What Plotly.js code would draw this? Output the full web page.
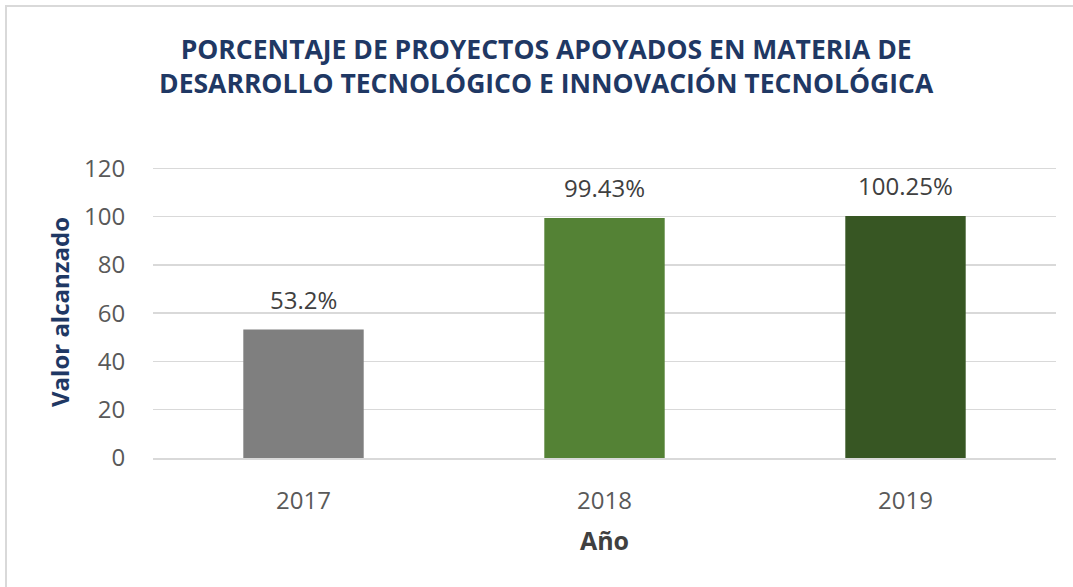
<!DOCTYPE html>
<html>
<head>
<meta charset="utf-8">
<script src="https://cdn.plot.ly/plotly-3.0.1.min.js"></script>
<style>
html,body{margin:0;padding:0;background:#fff;}
#wrap{position:relative;width:1073px;height:587px;overflow:hidden;}
#chart{width:1073px;height:587px;}
#frame{position:absolute;left:5px;top:5px;width:1100px;height:700px;border:2px solid #d9d9d9;box-sizing:border-box;pointer-events:none;}
</style>
</head>
<body>
<div id="wrap"><div id="chart"></div><div id="frame"></div></div>
<script>
const years = ['2017', '2018', '2019'];
const values = [53.2, 99.43, 100.25];
const labels = ['53.2%', '99.43%', '100.25%'];
const colors = ['#7f7f7f', '#548235', '#375623'];
const yTicks = [0, 20, 40, 60, 80, 100, 120];

const font = 'Open Sans, Noto Sans, sans-serif';

const trace = {
  type: 'bar',
  x: years,
  y: values,
  marker: {color: colors},
  showlegend: false
};

const annotations = years.map((yr, i) => ({
  x: i, y: values[i], xref: 'x', yref: 'y',
  text: labels[i],
  showarrow: false, yanchor: 'bottom', yshift: 12,
  font: {family: font, size: 24, color: '#404040'}
}));

const layout = {
  width: 1073, height: 587,
  margin: {l: 153, r: 17, t: 166, b: 129},
  paper_bgcolor: '#ffffff', plot_bgcolor: '#ffffff',
  bargap: 0.6,
  title: {
    text: '<b>PORCENTAJE DE PROYECTOS APOYADOS EN MATERIA DE<br>DESARROLLO TECNOLÓGICO E INNOVACIÓN TECNOLÓGICA</b>',
    font: {family: font, size: 26.5, color: '#1f3864'},
    x: 0.509, xanchor: 'center', y: 0.90, yanchor: 'top'
  },
  xaxis: {
    type: 'category',
    range: [-0.5, 2.5],
    tickfont: {family: font, size: 24, color: '#595959'},
    ticks: 'outside', ticklen: 20, tickcolor: 'rgba(0,0,0,0)',
    showgrid: false, showline: true, linecolor: '#d9d9d9', linewidth: 2,
    title: {text: '<b>Año</b>', font: {family: font, size: 25, color: '#404040'}, standoff: 18}
  },
  yaxis: {
    range: [0, 121], tickvals: yTicks, ticktext: yTicks.map(String),
    tickfont: {family: font, size: 24, color: '#595959'},
    ticks: 'outside', ticklen: 22, tickcolor: 'rgba(0,0,0,0)',
    showgrid: true, gridcolor: '#d9d9d9', gridwidth: 1.5,
    zeroline: false, showline: false,
    title: {text: '<b>Valor alcanzado</b>', font: {family: font, size: 24, color: '#1f3864'}, standoff: 7}
  },
  annotations: annotations
};

Plotly.newPlot('chart', [trace], layout, {displayModeBar: false, staticPlot: true});
</script>
</body>
</html>
